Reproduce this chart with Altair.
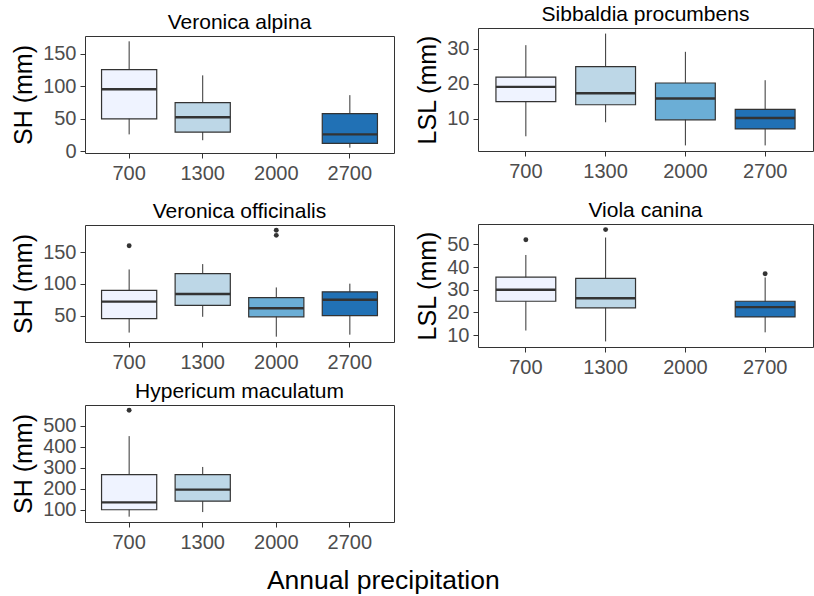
import altair as alt
import pandas as pd

CATS = ["700", "1300", "2000", "2700"]
FILLS = ["#EFF3FF", "#BDD7E7", "#6BAED6", "#2171B5"]
FONT = "Liberation Sans"

# Veronica alpina – shoot height (mm); no plants at 2000
va_cat = ["700", "1300", "2700"]
va_low = [26, 17, 5.5]
va_q1 = [50, 29.5, 12]
va_med = [95.5, 52.5, 26]
va_q3 = [126, 75, 58]
va_high = [169.5, 117, 86.5]
va_out_cat = []
va_out = []

# Sibbaldia procumbens – leaf stalk length (mm)
sp_cat = ["700", "1300", "2000", "2700"]
sp_low = [5, 9, 2.4, 2.4]
sp_q1 = [14.9, 14, 9.7, 7.1]
sp_med = [19.1, 17.3, 15.8, 10.2]
sp_q3 = [21.9, 24.9, 20.2, 12.7]
sp_high = [31, 34.3, 29.1, 21]
sp_out_cat = []
sp_out = []

# Veronica officinalis – shoot height (mm)
vo_cat = ["700", "1300", "2000", "2700"]
vo_low = [23, 48, 16.5, 19.7]
vo_q1 = [45, 66, 48, 50]
vo_med = [72, 84, 61.5, 75]
vo_q3 = [90, 116.5, 78.5, 87.5]
vo_high = [123, 131.5, 94.5, 100.5]
vo_out_cat = ["700", "2000", "2000"]
vo_out = [160.5, 185, 177]

# Viola canina – leaf stalk length (mm); no plants at 2000
vc_cat = ["700", "1300", "2700"]
vc_low = [12, 7.2, 11.2]
vc_q1 = [24.9, 22, 18]
vc_med = [30, 26.2, 22.3]
vc_q3 = [35.5, 35, 24.9]
vc_high = [45.3, 53, 35.4]
vc_out_cat = ["700", "1300", "2700"]
vc_out = [52, 56.5, 37]

# Hypericum maculatum – shoot height (mm); only 700 and 1300
hm_cat = ["700", "1300"]
hm_low = [67, 89]
hm_q1 = [100, 141]
hm_med = [135, 196]
hm_q3 = [267, 267]
hm_high = [451, 304]
hm_out_cat = ["700"]
hm_out = [574]

SH_TICKS = [0, 50, 100, 150]
LSL_TICKS = [10, 20, 30]
VO_TICKS = [50, 100, 150]
VC_TICKS = [10, 20, 30, 40, 50]
HM_TICKS = [100, 200, 300, 400, 500]


def panel(title, ytitle, cat, low, q1, med, q3, high, out_cat, out_val, ticks, w, h):
    box = pd.DataFrame({"cat": cat, "low": low, "q1": q1, "med": med,
                        "q3": q3, "high": high})
    lo = min(low + out_val)
    hi = max(high + out_val)
    pad = 0.05 * (hi - lo)
    ys = alt.Scale(domain=[lo - pad, hi + pad], nice=False, zero=False)
    ya = alt.Axis(title=ytitle, values=ticks)
    xs = alt.Scale(domain=CATS, paddingInner=0.25, paddingOuter=0.225)
    xa = alt.Axis(title=None, labelAngle=0, labelPadding=5)
    x = alt.X("cat:N", scale=xs, axis=xa, sort=CATS)

    base = alt.Chart(box)
    whisk = base.mark_rule(color="#333333", strokeWidth=1).encode(
        x=x, y=alt.Y("low:Q", scale=ys, axis=ya), y2="high:Q")
    bars = base.mark_bar(stroke="#333333", strokeWidth=1.2).encode(
        x=x, y=alt.Y("q1:Q", scale=ys, axis=ya), y2="q3:Q",
        fill=alt.Fill("cat:N", scale=alt.Scale(domain=CATS, range=FILLS), legend=None))
    mid = base.mark_tick(color="#333333", thickness=2.4, size=w / 4.2 * 0.75,
                         opacity=1).encode(
        x=x, y=alt.Y("med:Q", scale=ys, axis=ya))
    layers = [whisk, bars, mid]
    if out_val:
        pts = alt.Chart(pd.DataFrame({"cat": out_cat, "v": out_val})).mark_circle(
            color="#333333", size=24, opacity=1).encode(
            x=x, y=alt.Y("v:Q", scale=ys, axis=ya))
        layers.append(pts)
    return alt.layer(*layers).properties(
        width=w, height=h,
        title=alt.TitleParams(title, fontSize=21, font=FONT, fontWeight="normal",
                              color="#000000", baseline="alphabetic", offset=-13.5,
                              anchor="middle", frame="group"))


def spacer(h):
    return alt.Chart(pd.DataFrame({"v": [0]})).mark_point(size=0, opacity=0).encode(
        x=alt.value(0), y=alt.value(0)).properties(
        width=10, height=h, view=alt.ViewBackground(stroke="transparent"))


LW, LH = 309, 117
RW, RH = 335, 123

p1 = panel("Veronica alpina", "SH (mm)", va_cat, va_low, va_q1, va_med, va_q3,
           va_high, va_out_cat, va_out, SH_TICKS, LW, LH)
p2 = panel("Sibbaldia procumbens", "LSL (mm)", sp_cat, sp_low, sp_q1, sp_med, sp_q3,
           sp_high, sp_out_cat, sp_out, LSL_TICKS, RW, RH)
p3 = panel("Veronica officinalis", "SH (mm)", vo_cat, vo_low, vo_q1, vo_med, vo_q3,
           vo_high, vo_out_cat, vo_out, VO_TICKS, LW, LH)
p4 = panel("Viola canina", "LSL (mm)", vc_cat, vc_low, vc_q1, vc_med, vc_q3,
           vc_high, vc_out_cat, vc_out, VC_TICKS, RW, RH)
p5 = panel("Hypericum maculatum", "SH (mm)", hm_cat, hm_low, hm_q1, hm_med, hm_q3,
           hm_high, hm_out_cat, hm_out, HM_TICKS, LW, LH)

ind = dict(y="independent")
top_left = alt.vconcat(spacer(9), p1, spacing=0).resolve_scale(**ind)
mid_left = alt.vconcat(top_left, p3, spacing=16).resolve_scale(**ind)
col1 = alt.vconcat(mid_left, p5, spacing=7).resolve_scale(**ind)
top_right = alt.vconcat(spacer(1), p2, spacing=0).resolve_scale(**ind)
col2 = alt.vconcat(top_right, p4, spacing=17).resolve_scale(**ind)

chart = alt.hconcat(col1, col2, spacing=20).resolve_scale(**ind).properties(
    title=alt.TitleParams("Annual precipitation", orient="bottom", anchor="middle",
                          fontSize=26.5, font=FONT, fontWeight="normal",
                          color="#000000", offset=15, dx=-29),
    padding={"left": 11, "top": 0, "right": 0, "bottom": 0},
).configure(font=FONT, background="white").configure_view(
    stroke="#333333", strokeWidth=1
).configure_axis(
    domain=False, grid=False, ticks=True, tickColor="#333333", tickSize=5,
    tickWidth=1, labelFontSize=20, labelColor="#4D4D4D", labelFont=FONT,
    labelPadding=4, titleFontSize=25, titleFont=FONT, titleFontWeight="normal",
    titleColor="#000000", titlePadding=6
)

chart.save("out.html", embed_options={"renderer": "svg", "actions": False})
